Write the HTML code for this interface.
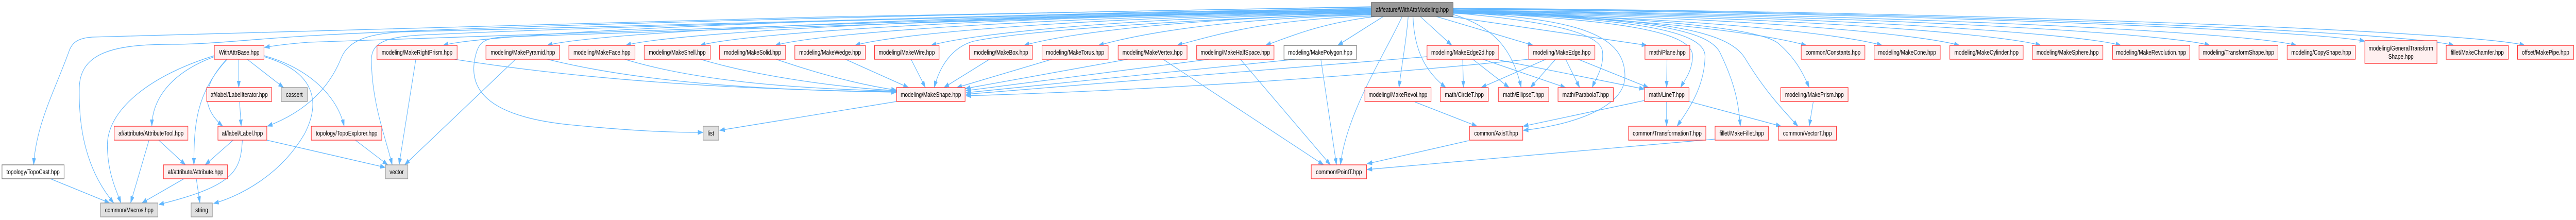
<!DOCTYPE html>
<html>
<head>
<meta charset="utf-8">
<style>
html,body{margin:0;padding:0;background:#fff;width:100%;height:100%;overflow:hidden;}
svg{display:block;position:absolute;left:0;top:0;width:100vw;height:100vh;}
.r{fill:#fff0f0;stroke:#ff3a3a;stroke-width:1.4;}
.g{fill:#e0e0e0;stroke:#999;stroke-width:1.4;}
.w{fill:#fff;stroke:#777;stroke-width:1.4;}
.t{fill:#999;stroke:#666;stroke-width:1.4;}
text{font-family:"Liberation Sans",Arial,sans-serif;font-size:13px;fill:#000;text-anchor:middle;}
.e path{fill:none;stroke:#63b8ff;stroke-width:1.3;marker-end:url(#ah);}
</style>
</head>
<body>
<svg viewBox="0 0 6430 427" preserveAspectRatio="none" xmlns="http://www.w3.org/2000/svg">
<defs>
<marker id="ah" markerUnits="userSpaceOnUse" markerWidth="13" markerHeight="10" refX="13" refY="4.5" orient="auto">
<path d="M0,0 L13,4.5 L0,9 Z" fill="#63b8ff" stroke="#63b8ff" stroke-width="0.5"/>
</marker>
</defs>
<g class="e">
<!-- top node fan left -->
<path d="M3423,13 C2500,22 800,55 230,72 C195,74 180,82 172,100 C140,170 90,240 84,320"/>
<path d="M3423,14 C2500,24 1200,50 760,70 C600,78 520,86 430,86 C290,86 200,100 198,170 C196,250 215,330 284,394"/>
<path d="M3423,16 C2500,27 1400,50 1000,62 C920,66 870,78 852,112 C825,165 770,215 667,245"/>
<path d="M3423,17 C2500,29 1400,55 1050,68 C965,72 928,82 927,115 C928,200 960,260 979,320"/>
<path d="M3423,18 C2500,32 1300,65 770,82 C720,85 690,88 660,92"/>
<path d="M3423,19 C2600,33 1500,62 1250,72 C1205,75 1195,85 1188,105 C1165,170 1210,225 1420,242 C1550,252 1650,257 1755,257"/>
<path d="M3423,20 C2264,26 1226,62 1106,88"/>
<path d="M3423,21 C2394,27 1486,62 1366,88"/>
<path d="M3423,22 C2492,28 1682,62 1562,88"/>
<path d="M3423,23 C2585,29 1868,62 1748,88"/>
<path d="M3423,24 C2679,30 2055,62 1935,88"/>
<path d="M3423,25 C2778,31 2254,62 2134,88"/>
<path d="M3423,26 C2873,32 2444,62 2324,88"/>
<path d="M3423,27 C3000,35 2550,60 2430,80 C2375,92 2345,130 2332,170"/>
<path d="M3423,28 C2989,34 2676,62 2556,88"/>
<path d="M3423,29 C3082,35 2862,62 2742,88"/>
<path d="M3426,31 C3180,37 3058,62 2938,88"/>
<path d="M3432,32 C3300,45 3230,68 3159,88"/>
<!-- top node down -->
<path d="M3453,32 L3339,88"/>
<path d="M3500,32 C3460,100 3360,220 3346,320"/>
<path d="M3515,32 C3510,80 3500,120 3492,170"/>
<path d="M3527,32 C3530,100 3560,140 3609,170"/>
<path d="M3545,32 L3624,88"/>
<path d="M3585,32 L3827,88"/>
<path d="M3620,32 L4111,88"/>
<!-- top node fan right lower -->
<path d="M3627,28 C3720,50 3775,90 3797,170"/>
<path d="M3627,25 C3850,40 3995,62 4000,100 C4004,130 3985,150 3974,170"/>
<path d="M3627,24 C3950,36 4058,70 4056,150 C4053,215 3900,245 3802,253"/>
<path d="M3627,23 C4050,38 4228,62 4225,110 C4223,140 4205,155 4195,170"/>
<path d="M3627,22 C4100,36 4258,62 4256,110 C4254,170 4215,212 4186,245"/>
<path d="M3627,21 C4150,36 4262,62 4292,100 C4330,160 4340,200 4344,245"/>
<path d="M3627,20 C4150,36 4310,58 4355,112 C4400,170 4440,205 4488,245"/>
<path d="M3627,19 C4200,38 4400,58 4440,85 C4480,112 4500,140 4516,170"/>
<!-- top node fan right row1 -->
<path d="M3627,26 C4068,32 4389,62 4509,88"/>
<path d="M3627,25 C4162,31 4578,62 4698,88"/>
<path d="M3627,24 C4259,30 4771,62 4891,88"/>
<path d="M3627,23 C4360,29 4974,62 5094,88"/>
<path d="M3627,22 C4460,28 5174,62 5294,88"/>
<path d="M3627,21 C4571,27 5396,62 5516,88"/>
<path d="M3627,20 C4679,26 5612,62 5732,88"/>
<path d="M3627,18 C4765,24 5783,60 5903,80"/>
<path d="M3627,17 C4876,23 6005,62 6125,88"/>
<path d="M3627,16 C4964,22 6182,62 6302,88"/>
<!-- WithAttrBase subtree -->
<path d="M596,115 L596,170"/>
<path d="M617,115 L708,170"/>
<path d="M535,110 C430,140 380,190 379,245"/>
<path d="M566,115 C500,170 505,210 556,245"/>
<path d="M567,115 C490,180 484,240 484,320"/>
<path d="M535,108 C380,145 270,210 268,280 C268,330 285,360 302,394"/>
<path d="M659,110 C790,140 800,200 760,260 C700,340 600,380 533,395"/>
<path d="M659,108 C760,130 840,180 859,245"/>
<path d="M598,198 L602,245"/>
<path d="M396,272 L463,320"/>
<path d="M372,272 L326,394"/>
<path d="M582,272 L512,320"/>
<path d="M605,272 C600,330 590,360 396,397"/>
<path d="M666,272 L962,325"/>
<path d="M887,272 L968,320"/>
<path d="M459,347 L354,394"/>
<path d="M490,347 L499,394"/>
<path d="M126,347 L274,394"/>
<!-- vector -->
<path d="M1038,115 L996,320"/>
<path d="M1287,115 L1010,320"/>
<!-- into MakeShape -->
<path d="M1134,115 C1500,160 1900,175 2238,178"/>
<path d="M1366,115 C1600,160 1900,175 2238,179"/>
<path d="M1559,115 C1750,160 2000,172 2238,177"/>
<path d="M1748,115 C1900,150 2100,170 2238,176"/>
<path d="M1937,115 C2050,145 2150,165 2238,175"/>
<path d="M2110,115 L2268,170"/>
<path d="M2274,115 L2310,170"/>
<path d="M2470,115 L2356,170"/>
<path d="M2626,115 L2388,170"/>
<path d="M2815,115 L2409,172"/>
<path d="M3019,115 L2411,176"/>
<path d="M3234,115 L2411,180"/>
<path d="M3562,110 L2411,183"/>
<path d="M3816,115 C3500,140 3000,172 2411,186"/>
<path d="M2238,197 L1796,253"/>
<!-- PointT -->
<path d="M2903,115 L3304,320"/>
<path d="M3096,115 L3321,320"/>
<path d="M3297,115 L3336,320"/>
<path d="M3666,273 L3412,318"/>
<path d="M4281,270 L3412,329"/>
<!-- MakeEdge2d / MakeEdge -->
<path d="M3651,115 L3653,170"/>
<path d="M3676,115 L3767,170"/>
<path d="M3701,115 L3908,170"/>
<path d="M3732,115 L4105,173"/>
<path d="M3859,115 L3697,170"/>
<path d="M3883,115 L3820,170"/>
<path d="M3908,115 L3943,170"/>
<path d="M3939,115 L4115,170"/>
<path d="M4161,115 L4160,170"/>
<path d="M4105,195 L3802,245"/>
<path d="M4160,198 L4160,245"/>
<path d="M4216,197 L4446,245"/>
<path d="M3532,198 L3687,245"/>
<path d="M4526,198 L4516,245"/>
</g>

<!-- top node -->
<rect class="t" x="3423" y="5" width="204" height="27"/>
<text x="3525" y="23">af/feature/WithAttrModeling.hpp</text>

<!-- row 1 -->
<rect class="r" x="535" y="88" width="124" height="27"/><text x="597" y="106">WithAttrBase.hpp</text>
<rect class="r" x="941" y="88" width="200" height="27"/><text x="1041" y="106">modeling/MakeRightPrism.hpp</text>
<rect class="r" x="1213" y="88" width="184" height="27"/><text x="1305" y="106">modeling/MakePyramid.hpp</text>
<rect class="r" x="1420" y="88" width="165" height="27"/><text x="1502.5" y="106">modeling/MakeFace.hpp</text>
<rect class="r" x="1608" y="88" width="165" height="27"/><text x="1690.5" y="106">modeling/MakeShell.hpp</text>
<rect class="r" x="1796" y="88" width="165" height="27"/><text x="1878.5" y="106">modeling/MakeSolid.hpp</text>
<rect class="r" x="1984" y="88" width="176" height="27"/><text x="2072" y="106">modeling/MakeWedge.hpp</text>
<rect class="r" x="2183" y="88" width="161" height="27"/><text x="2263.5" y="106">modeling/MakeWire.hpp</text>
<rect class="r" x="2420" y="88" width="157" height="27"/><text x="2498.5" y="106">modeling/MakeBox.hpp</text>
<rect class="r" x="2601" y="88" width="165" height="27"/><text x="2683.5" y="106">modeling/MakeTorus.hpp</text>
<rect class="r" x="2791" y="88" width="172" height="27"/><text x="2877" y="106">modeling/MakeVertex.hpp</text>
<rect class="r" x="2987" y="88" width="193" height="27"/><text x="3083.5" y="106">modeling/MakeHalfSpace.hpp</text>
<rect class="w" x="3205" y="88" width="181" height="27"/><text x="3295.5" y="106">modeling/MakePolygon.hpp</text>
<rect class="r" x="3562" y="88" width="179" height="27"/><text x="3651.5" y="106">modeling/MakeEdge2d.hpp</text>
<rect class="r" x="3816" y="88" width="165" height="27"/><text x="3898.5" y="106">modeling/MakeEdge.hpp</text>
<rect class="r" x="4106" y="88" width="112" height="27"/><text x="4162" y="106">math/Plane.hpp</text>
<rect class="r" x="4496" y="88" width="159" height="27"/><text x="4575.5" y="106">common/Constants.hpp</text>
<rect class="r" x="4678" y="88" width="165" height="27"/><text x="4760.5" y="106">modeling/MakeCone.hpp</text>
<rect class="r" x="4867" y="88" width="183" height="27"/><text x="4958.5" y="106">modeling/MakeCylinder.hpp</text>
<rect class="r" x="5073" y="88" width="176" height="27"/><text x="5161" y="106">modeling/MakeSphere.hpp</text>
<rect class="r" x="5273" y="88" width="193" height="27"/><text x="5369.5" y="106">modeling/MakeRevolution.hpp</text>
<rect class="r" x="5489" y="88" width="197" height="27"/><text x="5587.5" y="106">modeling/TransformShape.hpp</text>
<rect class="r" x="5709" y="88" width="170" height="27"/><text x="5794" y="106">modeling/CopyShape.hpp</text>
<rect class="r" x="5903" y="79" width="180" height="44"/><text x="5993" y="98">modeling/GeneralTransform</text><text x="5993" y="114">Shape.hpp</text>
<rect class="r" x="6106" y="88" width="155" height="27"/><text x="6183.5" y="106">fillet/MakeChamfer.hpp</text>
<rect class="r" x="6284" y="88" width="140" height="27"/><text x="6354" y="106">offset/MakePipe.hpp</text>

<!-- row 2 -->
<rect class="r" x="516" y="170" width="162" height="27"/><text x="597" y="188">af/label/LabelIterator.hpp</text>
<rect class="g" x="702" y="170" width="65" height="27"/><text x="734.5" y="188">cassert</text>
<rect class="r" x="2238" y="170" width="171" height="27"/><text x="2323.5" y="188">modeling/MakeShape.hpp</text>
<rect class="r" x="3407" y="170" width="165" height="27"/><text x="3489.5" y="188">modeling/MakeRevol.hpp</text>
<rect class="r" x="3595" y="170" width="120" height="27"/><text x="3655" y="188">math/CircleT.hpp</text>
<rect class="r" x="3740" y="170" width="126" height="27"/><text x="3803" y="188">math/EllipseT.hpp</text>
<rect class="r" x="3889" y="170" width="138" height="27"/><text x="3958" y="188">math/ParabolaT.hpp</text>
<rect class="r" x="4105" y="170" width="111" height="27"/><text x="4160.5" y="188">math/LineT.hpp</text>
<rect class="r" x="4445" y="170" width="168" height="27"/><text x="4529" y="188">modeling/MakePrism.hpp</text>

<!-- row 3 -->
<rect class="r" x="285" y="245" width="184" height="27"/><text x="377" y="263">af/attribute/AttributeTool.hpp</text>
<rect class="r" x="544" y="245" width="122" height="27"/><text x="605" y="263">af/label/Label.hpp</text>
<rect class="r" x="777" y="245" width="176" height="27"/><text x="865" y="263">topology/TopoExplorer.hpp</text>
<rect class="g" x="1755" y="245" width="39" height="27"/><text x="1774.5" y="263">list</text>
<rect class="r" x="3668" y="245" width="133" height="27"/><text x="3734.5" y="263">common/AxisT.hpp</text>
<rect class="r" x="4065" y="245" width="193" height="27"/><text x="4161.5" y="263">common/TransformationT.hpp</text>
<rect class="r" x="4281" y="245" width="133" height="27"/><text x="4347.5" y="263">fillet/MakeFillet.hpp</text>
<rect class="r" x="4439" y="245" width="145" height="27"/><text x="4511.5" y="263">common/VectorT.hpp</text>

<!-- row 4 -->
<rect class="w" x="5" y="320" width="155" height="27"/><text x="82.5" y="338">topology/TopoCast.hpp</text>
<rect class="r" x="408" y="320" width="160" height="27"/><text x="488" y="338">af/attribute/Attribute.hpp</text>
<rect class="g" x="962" y="320" width="56" height="27"/><text x="990" y="338">vector</text>
<rect class="r" x="3273" y="320" width="138" height="27"/><text x="3342" y="338">common/PointT.hpp</text>

<!-- row 5 -->
<rect class="g" x="251" y="394" width="143" height="27"/><text x="322.5" y="412">common/Macros.hpp</text>
<rect class="g" x="477" y="394" width="53" height="27"/><text x="503.5" y="412">string</text>
</svg>
</body>
</html>
